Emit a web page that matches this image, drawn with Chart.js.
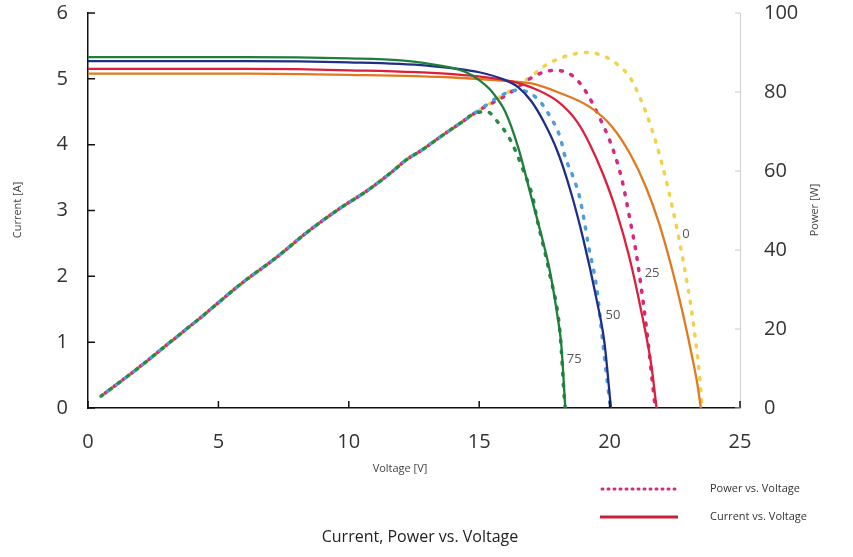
<!DOCTYPE html>
<html>
<head>
<meta charset="utf-8">
<script src="https://cdn.jsdelivr.net/npm/chart.js@4.4.0/dist/chart.umd.min.js"></script>
<style>
  html,body{margin:0;padding:0;background:#fff}
  #wrap{width:853px;height:557px;position:relative}
</style>
</head>
<body>
<div id="wrap"><canvas id="c"></canvas></div>
<script>
// 溫度標籤（曲線旁的 0 / 25 / 50 / 75）
const temps = ['0', '25', '50', '75'];
const labelV = [22.93, 21.63, 20.13, 18.64];
const labelI = [2.64, 2.05, 1.41, 0.74];

// 電流 vs 電壓（實線）
const ivV0  = [0, 6, 10, 14, 16, 17, 18, 19.25, 20.1, 20.8, 21.4, 21.9, 22.4, 22.8, 23.1, 23.35, 23.5];
const ivI0  = [5.08, 5.08, 5.06, 5.02, 4.97, 4.93, 4.8, 4.57, 4.27, 3.85, 3.35, 2.8, 2.1, 1.45, 0.9, 0.4, 0];
const ivV25 = [0, 6, 10, 14, 16, 17, 18, 18.75, 19.25, 19.75, 20.25, 20.75, 21.25, 21.6, 21.8];
const ivI25 = [5.15, 5.15, 5.13, 5.07, 4.98, 4.87, 4.66, 4.35, 4.0, 3.55, 3.0, 2.3, 1.4, 0.65, 0];
const ivV50 = [0, 6, 10, 13, 15, 16, 16.5, 17, 17.5, 18, 18.5, 19, 19.5, 19.8, 20.05];
const ivI50 = [5.27, 5.27, 5.25, 5.2, 5.1, 4.98, 4.87, 4.66, 4.33, 3.9, 3.3, 2.55, 1.65, 1.0, 0];
const ivV75 = [0, 6, 10, 12, 13.5, 14.5, 15, 15.5, 16, 16.5, 17, 17.4, 17.7, 18, 18.15, 18.3];
const ivI75 = [5.33, 5.33, 5.31, 5.28, 5.2, 5.1, 4.98, 4.8, 4.5, 3.95, 3.2, 2.6, 2.1, 1.4, 0.95, 0];

// 功率 vs 電壓（點線，右軸）
const pvV0  = [0.5, 1.9, 3.1, 4.3, 5.9, 7.2, 8.5, 9.65, 10.7, 11.6, 12.2, 12.8, 13.5, 14.25, 15, 16, 17, 17.6, 18.5, 19.2, 19.8, 20.3, 20.8, 21.2, 21.6, 22.0, 22.4, 22.8, 23.2, 23.45, 23.55];
const pvP0  = [3, 10, 16.4, 22.8, 31.6, 38, 45, 50.5, 55, 59.5, 62.8, 65.3, 68.6, 72, 75.4, 79.5, 84, 87, 89.4, 90, 89, 87, 83.5, 78, 71, 62, 51, 38, 22, 8, 0];
const pvV25 = [0.5, 1.9, 3.1, 4.3, 5.9, 7.2, 8.5, 9.65, 10.7, 11.6, 12.2, 12.8, 13.5, 14.25, 15, 16, 17.2, 17.9, 18.6, 19.1, 19.6, 20.0, 20.3, 20.5, 20.8, 21.0, 21.4, 21.65, 21.75];
const pvP25 = [3, 10, 16.4, 22.8, 31.6, 38, 45, 50.5, 55, 59.5, 62.8, 65.3, 68.6, 72, 75.4, 79, 84.3, 85.5, 84, 80, 73.7, 67.8, 62, 57, 47, 40, 21, 6, 0];
const pvV50 = [0.5, 1.9, 3.1, 4.3, 5.9, 7.2, 8.5, 9.65, 10.7, 11.6, 12.2, 12.8, 13.5, 14.25, 15, 15.8, 16.5, 17.2, 17.7, 18.1, 18.3, 18.6, 18.85, 19.0, 19.2, 19.5, 19.7, 20.0, 20.05];
const pvP50 = [3, 10, 16.4, 22.8, 31.6, 38, 45, 50.5, 55, 59.5, 62.8, 65.3, 68.6, 72, 75.4, 79, 80.5, 78.5, 74, 68.6, 63.5, 58.5, 53.4, 48.4, 40.8, 30.6, 19, 2, 0];
const pvV75 = [0.5, 1.9, 3.1, 4.3, 5.9, 7.2, 8.5, 9.65, 10.7, 11.6, 12.2, 12.8, 13.5, 14.25, 14.8, 15.3, 15.7, 16.2, 16.7, 17.05, 17.2, 17.7, 18.1, 18.27, 18.3];
const pvP75 = [3, 10, 16.4, 22.8, 31.6, 38, 45, 50.5, 55, 59.5, 62.8, 65.3, 68.6, 72, 74.5, 75, 72.5, 67.8, 60, 53.4, 48.4, 34, 19, 2, 0];

// 軸刻度
const xTicks  = [0, 5, 10, 15, 20, 25];
const yTicks  = [0, 1, 2, 3, 4, 5, 6];
const y2Ticks = [0, 20, 40, 60, 80, 100];

const FONT = '"Open Sans", "Noto Sans", sans-serif';
Chart.defaults.font.family = FONT;

const zip = (xs, ys) => xs.map((v, i) => ({x: v, y: ys[i]}));
const mkSolid = (data, col) => ({data, yAxisID: 'y', borderColor: col, borderWidth: 2.3, pointRadius: 0,
  cubicInterpolationMode: 'monotone', fill: false});
const mkDot = (data, col, off) => ({data, yAxisID: 'y2', borderColor: col, borderWidth: 3.5, pointRadius: 0,
  borderDash: [2, 9], borderDashOffset: off, borderCapStyle: 'round', cubicInterpolationMode: 'monotone', fill: false});

// 內向刻度、文字、圖例
const decor = {
  id: 'decor',
  afterDraw(ch) {
    const {ctx, chartArea: a, scales: {x, y, y2}} = ch;
    ctx.save();
    ctx.lineWidth = 1.5; ctx.strokeStyle = '#111';
    ctx.beginPath();
    yTicks.forEach(v => { const p = y.getPixelForValue(v); ctx.moveTo(a.left, p); ctx.lineTo(a.left + 7, p); });
    xTicks.forEach(v => { const p = x.getPixelForValue(v); ctx.moveTo(p, a.bottom); ctx.lineTo(p, a.bottom - 7); });
    ctx.stroke();
    ctx.strokeStyle = '#c8c8c8'; ctx.lineWidth = 1;
    ctx.beginPath();
    y2Ticks.forEach(v => { const p = y2.getPixelForValue(v); ctx.moveTo(a.right, p); ctx.lineTo(a.right - 5, p); });
    ctx.stroke();

    // 曲線溫度標籤
    ctx.font = '13px ' + FONT; ctx.textAlign = 'center'; ctx.textBaseline = 'middle';
    temps.forEach((t, i) => {
      const px = x.getPixelForValue(labelV[i]), py = y.getPixelForValue(labelI[i]);
      if (i === 0) { ctx.fillStyle = '#fff'; ctx.fillRect(px - 5, py - 8, 10, 16); }
      ctx.fillStyle = '#555'; ctx.fillText(t, px, py);
    });

    // 軸標題
    ctx.fillStyle = '#444';
    ctx.font = '11px ' + FONT;
    ctx.fillText('Voltage [V]', 400, 469);
    ctx.save(); ctx.translate(18, 210); ctx.rotate(-Math.PI / 2); ctx.fillText('Current [A]', 0, 0); ctx.restore();
    ctx.save(); ctx.translate(815, 210); ctx.rotate(-Math.PI / 2); ctx.fillText('Power [W]', 0, 0); ctx.restore();

    // 圖表標題
    ctx.fillStyle = '#222';
    ctx.font = '16px ' + FONT;
    ctx.fillText('Current, Power vs. Voltage', 420, 537);

    // 圖例
    ctx.lineCap = 'round';
    ctx.strokeStyle = '#d6287e'; ctx.lineWidth = 3; ctx.setLineDash([1, 5]);
    ctx.beginPath(); ctx.moveTo(602, 489); ctx.lineTo(676, 489); ctx.stroke();
    ctx.setLineDash([]); ctx.lineCap = 'butt';
    ctx.strokeStyle = '#c8203c'; ctx.lineWidth = 3;
    ctx.beginPath(); ctx.moveTo(600, 517); ctx.lineTo(678, 517); ctx.stroke();
    ctx.fillStyle = '#333'; ctx.font = '11px ' + FONT; ctx.textAlign = 'left';
    ctx.fillText('Power vs. Voltage', 710, 489);
    ctx.fillText('Current vs. Voltage', 710, 517);
    ctx.restore();
  }
};

const noPadV = s => { s.paddingTop = 0; s.paddingBottom = 0; };

new Chart(document.getElementById('c'), {
  type: 'line',
  data: {datasets: [
    mkSolid(zip(ivV75, ivI75), '#1e7f3c'),
    mkSolid(zip(ivV50, ivI50), '#1f2f86'),
    mkSolid(zip(ivV25, ivI25), '#dc1f3c'),
    mkSolid(zip(ivV0,  ivI0),  '#e07a1f'),
    mkDot(zip(pvV75, pvP75), '#2a8a45', 0),
    mkDot(zip(pvV50, pvP50), '#4f9fd6', 2.75),
    mkDot(zip(pvV25, pvP25), '#d6287e', 5.5),
    mkDot(zip(pvV0,  pvP0),  '#f2d24a', 8.25),
  ]},
  options: {
    responsive: true, maintainAspectRatio: false, animation: false,
    layout: {padding: {top: 13, left: 0, right: 0, bottom: 0}},
    plugins: {legend: {display: false}, tooltip: {enabled: false}},
    scales: {
      x: {type: 'linear', min: 0, max: 25,
        afterBuildTicks: s => { s.ticks = xTicks.map(v => ({value: v})); },
        afterFit: s => { s.height = 149; s.paddingLeft = 0; s.paddingRight = 0; },
        grid: {drawOnChartArea: false, drawTicks: false},
        border: {color: '#111', width: 1.5},
        ticks: {color: '#333', font: {size: 20}, padding: 22, maxRotation: 0}},
      y: {position: 'left', min: 0, max: 6,
        afterBuildTicks: s => { s.ticks = yTicks.map(v => ({value: v})); },
        afterFit: s => { s.width = 88; noPadV(s); },
        grid: {drawOnChartArea: false, drawTicks: false},
        border: {color: '#111', width: 1.5},
        ticks: {color: '#333', font: {size: 20}, padding: 20}},
      y2: {position: 'right', min: 0, max: 100,
        afterBuildTicks: s => { s.ticks = y2Ticks.map(v => ({value: v})); },
        afterFit: s => { s.width = 113; noPadV(s); },
        grid: {drawOnChartArea: false, drawTicks: false},
        border: {color: '#d0d0d0', width: 1},
        ticks: {color: '#333', font: {size: 20}, padding: 24}}
    }
  },
  plugins: [decor]
});
</script>
</body>
</html>
